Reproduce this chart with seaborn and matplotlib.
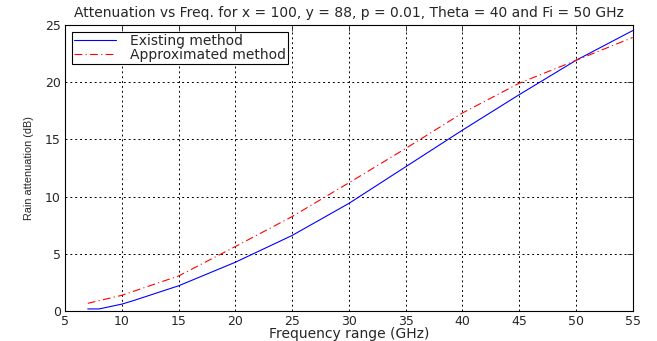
import matplotlib
matplotlib.use("Agg")
import matplotlib.pyplot as plt
import seaborn as sns
import pandas as pd

freq_existing = [7, 8, 10, 11, 15, 20, 25, 30, 35, 40, 45, 50, 55]
atten_existing = [0.18, 0.18, 0.6, 0.9, 2.2, 4.26, 6.6, 9.4, 12.6, 15.8, 18.9, 21.9, 24.5]
freq_approx = [7, 10, 15, 20, 25, 30, 35, 40, 45, 50, 55]
atten_approx = [0.67, 1.37, 3.06, 5.63, 8.25, 11.2, 14.2, 17.3, 19.9, 21.9, 23.9]

x_ticks = [5, 10, 15, 20, 25, 30, 35, 40, 45, 50, 55]
y_ticks = [0, 5, 10, 15, 20, 25]

sns.set_style("white")
plt.rcParams['font.family'] = ['DejaVu Sans']

fig = plt.figure(figsize=(6.57, 3.41), dpi=100)
ax = fig.add_axes([0.099, 0.088, 0.864, 0.839])

df_e = pd.DataFrame({"f": freq_existing, "a": atten_existing})
df_a = pd.DataFrame({"f": freq_approx, "a": atten_approx})
sns.lineplot(data=df_e, x="f", y="a", ax=ax, color="blue", linewidth=0.8,
             label="Existing method")
sns.lineplot(data=df_a, x="f", y="a", ax=ax, color="red", linewidth=0.8,
             linestyle=(0, (7, 3, 1, 3)), label="Approximated method")

ax.set_xlim(5, 55)
ax.set_ylim(0, 25)
ax.set_xticks(x_ticks)
ax.set_yticks(y_ticks)
ax.grid(True, color="black", linestyle=(0, (2, 3)), linewidth=0.7)
ax.tick_params(direction="in", top=True, right=True, labelsize=9, length=4,
               width=0.6, pad=3)
for s in ax.spines.values():
    s.set_color("black")
    s.set_linewidth(0.8)
ax.set_xlabel("Frequency range (GHz)", fontsize=10, labelpad=-1)
ax.set_ylabel("Rain attenuation (dB)", fontsize=7.8, labelpad=8,
              family="Liberation Sans")
ax.set_title("Attenuation vs Freq. for x = 100, y = 88, p = 0.01, Theta = 40 and Fi = 50 GHz",
             fontsize=10, pad=6)
leg = ax.legend(loc="upper left", fontsize=10, frameon=True, fancybox=False,
                edgecolor="black", framealpha=1, borderpad=0.15, labelspacing=0.0,
                handlelength=3.0, handletextpad=1.0, borderaxespad=0.5)
leg.get_frame().set_linewidth(0.8)

fig.savefig("out.png", dpi=100)
